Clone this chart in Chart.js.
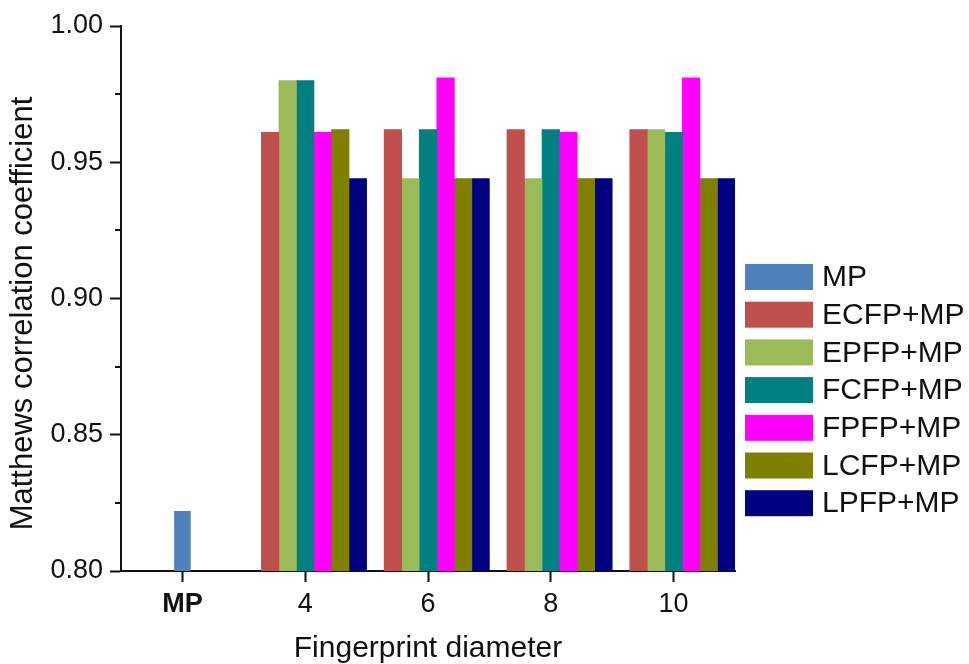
<!DOCTYPE html>
<html>
<head>
<meta charset="utf-8">
<script src="https://cdn.jsdelivr.net/npm/chart.js@4.4.1/dist/chart.umd.min.js"></script>
<style>
  html, body { margin: 0; padding: 0; background: #ffffff; }
  #wrap { width: 969px; height: 664px; position: relative; }
</style>
</head>
<body>
<div id="wrap"><canvas id="chart" width="969" height="664"></canvas></div>
<script>
// Fingerprint diameter groups
const categories = ['MP', '4', '6', '8', '10'];

// Matthews correlation coefficient per model
const mpValues   = [0.822, null, null, null, null];
const ecfpValues = [null, 0.961, 0.962, 0.962, 0.962];
const epfpValues = [null, 0.980, 0.944, 0.944, 0.962];
const fcfpValues = [null, 0.980, 0.962, 0.962, 0.961];
const fpfpValues = [null, 0.961, 0.981, 0.961, 0.981];
const lcfpValues = [null, 0.962, 0.944, 0.944, 0.944];
const lpfpValues = [null, 0.944, 0.944, 0.944, 0.944];

const seriesLabels = ['MP', 'ECFP+MP', 'EPFP+MP', 'FCFP+MP', 'FPFP+MP', 'LCFP+MP', 'LPFP+MP'];
const seriesValues = [mpValues, ecfpValues, epfpValues, fcfpValues, fpfpValues, lcfpValues, lpfpValues];
const seriesColors = ['#4F81BD', '#C0504D', '#9BBB59', '#008080', '#FF00FF', '#808000', '#000080'];

// Labelled y-axis values; unlabelled minor ticks sit halfway between them
const yMajorTicks = [0.80, 0.85, 0.90, 0.95, 1.00];

const yTitle = 'Matthews correlation coefficient';
const xTitle = 'Fingerprint diameter';

const FONT = '"Liberation Sans", Arial, Helvetica, sans-serif';
const INK = '#111111';

const isMajor = v => yMajorTicks.some(t => Math.abs(t - v) < 1e-6);

const datasets = seriesLabels.map((label, i) => ({
  label,
  data: seriesValues[i],
  backgroundColor: seriesColors[i],
  borderWidth: 0,
  categoryPercentage: 1,
  // the stand-alone MP bar is centred in its own group and narrow
  barPercentage: i === 0 ? 0.135 : 1,
  skipNull: i === 0
}));

// Short inner ticks for the minor y values
const minorTicks = {
  id: 'minorTicks',
  afterDraw(chart) {
    const y = chart.scales.y;
    const ctx = chart.ctx;
    const x0 = chart.chartArea.left;
    ctx.save();
    ctx.strokeStyle = INK;
    ctx.lineWidth = 2;
    y.ticks.forEach(t => {
      if (isMajor(t.value)) return;
      const py = Math.round(y.getPixelForValue(t.value));
      ctx.beginPath();
      ctx.moveTo(x0 - 6, py);
      ctx.lineTo(x0, py);
      ctx.stroke();
    });
    ctx.restore();
  }
};

// Rotated y-axis title, set slightly below the middle of the axis
const yAxisTitle = {
  id: 'yAxisTitle',
  afterDraw(chart) {
    const ctx = chart.ctx;
    const area = chart.chartArea;
    ctx.save();
    ctx.translate(23, (area.top + area.bottom) / 2 + 15);
    ctx.rotate(-Math.PI / 2);
    ctx.font = '31px ' + FONT;
    ctx.fillStyle = INK;
    ctx.textAlign = 'center';
    ctx.textBaseline = 'middle';
    ctx.fillText(yTitle, 0, 0);
    ctx.restore();
  }
};

// Legend to the right of the plot, lower half
const sideLegend = {
  id: 'sideLegend',
  afterDraw(chart) {
    const ctx = chart.ctx;
    const area = chart.chartArea;
    const boxX = area.right + 10;
    const top = 264;
    const step = 37.7;
    ctx.save();
    ctx.font = '30px ' + FONT;
    ctx.textBaseline = 'middle';
    ctx.textAlign = 'left';
    chart.data.datasets.forEach((ds, i) => {
      const y = top + i * step;
      ctx.fillStyle = ds.backgroundColor;
      ctx.fillRect(boxX, y, 68, 26);
      ctx.fillStyle = INK;
      ctx.fillText(ds.label, boxX + 77, y + 14);
    });
    ctx.restore();
  }
};

new Chart(document.getElementById('chart'), {
  type: 'bar',
  data: { labels: categories, datasets },
  plugins: [minorTicks, yAxisTitle, sideLegend],
  options: {
    responsive: false,
    animation: false,
    layout: { padding: { top: 26, right: 234, left: 0, bottom: 0 } },
    plugins: {
      legend: { display: false },
      tooltip: { enabled: false }
    },
    scales: {
      x: {
        grid: {
          offset: false,
          drawOnChartArea: false,
          drawTicks: true,
          tickLength: 11,
          tickWidth: 2,
          tickColor: INK
        },
        border: { display: true, color: INK, width: 2 },
        ticks: {
          color: INK,
          padding: 6,
          maxRotation: 0,
          font: ctx => ({ family: FONT, size: 27, weight: ctx.index === 0 ? 'bold' : 'normal' })
        },
        title: {
          display: true,
          text: xTitle,
          color: INK,
          font: { family: FONT, size: 30, lineHeight: 1.0 },
          padding: { top: 0, bottom: 0 }
        },
        afterFit: s => { s.height = 93; }
      },
      y: {
        min: 0.8,
        max: 1.0,
        grid: {
          drawOnChartArea: false,
          drawTicks: true,
          tickLength: 11,
          tickWidth: 2,
          tickColor: ctx => (ctx.tick && isMajor(ctx.tick.value)) ? INK : 'rgba(0,0,0,0)'
        },
        border: { display: true, color: INK, width: 2 },
        ticks: {
          stepSize: 0.025,
          color: INK,
          padding: 7,
          font: { family: FONT, size: 27 },
          callback: v => isMajor(v) ? v.toFixed(2) : ''
        },
        title: { display: false },
        afterFit: s => { s.width = 121; }
      }
    }
  }
});
</script>
</body>
</html>
